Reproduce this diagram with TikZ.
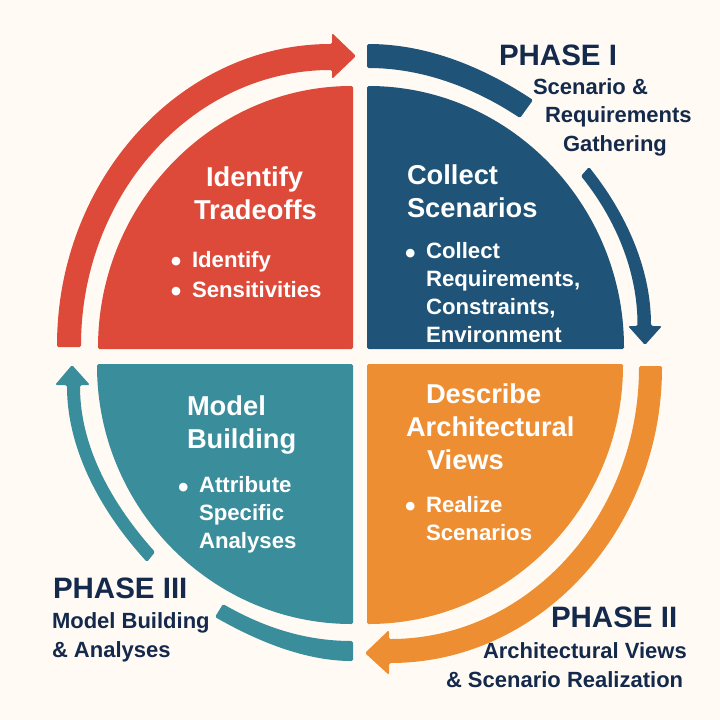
\documentclass[tikz,border=0pt]{standalone}
\usepackage{fontspec}
\setmainfont{Liberation Sans}
\definecolor{bgc}{HTML}{FFFBF4}
\definecolor{redc}{HTML}{DE4A3A}
\definecolor{bluec}{HTML}{1F5378}
\definecolor{tealc}{HTML}{3A8D9B}
\definecolor{orangec}{HTML}{EE8E33}
\definecolor{navyc}{HTML}{14294B}
\newcommand{\bul}{\llap{\raisebox{-4.5pt}{\fontsize{30}{30}\selectfont\textbullet}\hspace{10.5pt}}}
\tikzset{
  shapefill/.style={fill=#1,draw=none,rounded corners=1.5pt},
  txt/.style={inner sep=0pt,outer sep=0pt,align=left,anchor=base west},
  heading/.style={txt,text=white,font=\fontsize{27.3}{33}\selectfont\bfseries},
  itemtext/.style={txt,text=white,font=\fontsize{22.2}{27.7}\selectfont\bfseries},
  phasehead/.style={txt,text=navyc,font=\fontsize{29.5}{30}\selectfont\bfseries},
  phasesub/.style={txt,text=navyc,font=\fontsize{22}{28.2}\selectfont\bfseries},
}
\begin{document}
\begin{tikzpicture}[x=1pt,y=-1pt]
\useasboundingbox (0,0) rectangle (720,720);
\fill[bgc] (0,0) rectangle (720,720);
% quadrants
\path[shapefill=redc] (353,349) -- (98,349) .. controls (98,204) and (212,86) .. (353,86) -- cycle;
\path[shapefill=bluec] (367,349) -- (624,349) .. controls (624,204) and (509,86) .. (367,86) -- cycle;
\path[shapefill=tealc] (353,364) -- (97,364) .. controls (97,508) and (212,624) .. (353,624) -- cycle;
\path[shapefill=orangec] (367,364) -- (623,364) .. controls (623,508) and (508,624) .. (367,624) -- cycle;
% arrows
\path[shapefill=redc] (57,347) .. controls (57,180) and (180,44) .. (332,44) -- (332,33) -- (356,56) -- (332,79) -- (332,70) .. controls (193,70) and (81,194) .. (81,347) -- cycle;
\path[shapefill=bluec] (367,44) .. controls (427,44) and (483,67) .. (533,100) -- (520,118) .. controls (474,87.5) and (422,68) .. (367,68) -- cycle;
\path[shapefill=bluec] (589,167) .. controls (625.7,213) and (651,268) .. (651,326) -- (662,326) -- (645,345) -- (628,326) -- (637.5,326) .. controls (637.5,271) and (615.5,219) .. (581,176) -- cycle;
\path[shapefill=orangec] (662,366) .. controls (662,530) and (540,663) .. (389,663) -- (389,675) -- (365,653) -- (389,630) -- (389,639) .. controls (527,639) and (639,517) .. (639,366) -- cycle;
\path[shapefill=tealc] (353,661) .. controls (305,661) and (257,641) .. (215,617) -- (223,604) .. controls (263,627) and (305,641) .. (353,641) -- cycle;
\path[shapefill=tealc] (147,562) .. controls (102.5,513.5) and (67,451) .. (67,385) -- (55,385) -- (72,365) -- (90,385) -- (80,385) .. controls (80,448) and (113,505) .. (155,552) -- cycle;
% quadrant texts (anchored on the last baseline)
\node[heading] (redtitle) at (194,219) {\hspace*{12pt}Identify\\Tradeoffs};
\node[itemtext,font=\fontsize{22.2}{30}\selectfont\bfseries] (redlist) at (192,297) {\bul Identify\\\bul Sensitivities};
\node[heading] (bluetitle) at (407,217) {Collect\\Scenarios};
\node[itemtext] (bluelist) at (426,342) {\bul Collect\\Requirements,\\Constraints,\\Environment};
\node[heading] (orangetitle) at (406,469) {\hspace*{20pt}Describe\\Architectural\\\hspace*{21pt}Views};
\node[itemtext] (orangelist) at (426,540) {\bul Realize\\Scenarios};
\node[heading] (tealtitle) at (187,448) {Model\\Building};
\node[itemtext] (teallist) at (199,548) {\bul Attribute\\Specific\\Analyses};
% phase labels
\node[phasehead] (phaseone) at (499,65) {PHASE I};
\node[phasesub] (phaseonesub) at (533,151) {Scenario \&\\\hspace*{12pt}Requirements\\\hspace*{30pt}Gathering};
\node[phasehead] (phasetwo) at (551,627) {PHASE II};
\node[phasesub] (phasetwosub) at (446,687) {\hspace*{37pt}Architectural Views\\\& Scenario Realization};
\node[phasehead] (phasethree) at (53,598) {PHASE III};
\node[phasesub] (phasethreesub) at (52,657) {Model Building\\\& Analyses};
\end{tikzpicture}
\end{document}
